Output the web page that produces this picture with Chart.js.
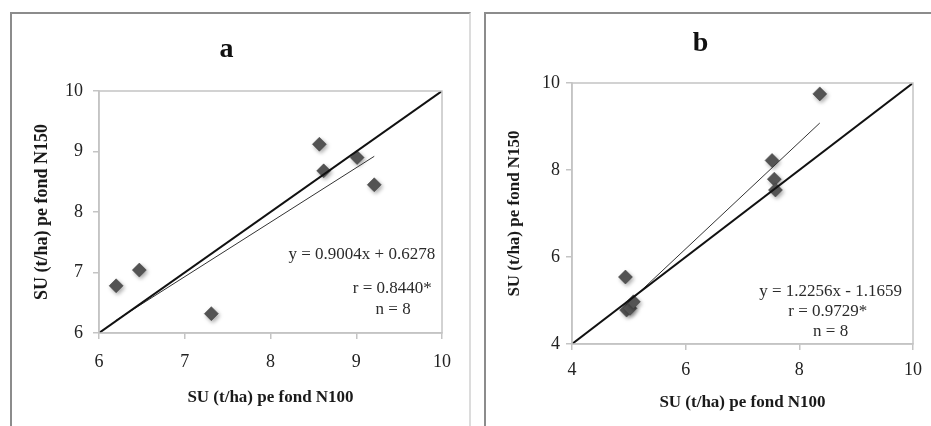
<!DOCTYPE html>
<html>
<head>
<meta charset="utf-8">
<script src="https://cdn.jsdelivr.net/npm/chart.js@4/dist/chart.umd.min.js"></script>
<style>
  body { margin: 0; background: #fff; width: 931px; height: 426px; overflow: hidden; position: relative; }
  .panel { position: absolute; top: 12px; height: 430px; box-sizing: border-box; }
  #panelA { left: 10px; width: 461px; border-left: 2px solid #8c8c8c; border-top: 2px solid #8c8c8c; border-right: 2px solid #dcdcdc; }
  #panelB { left: 484px; width: 460px; border-left: 2px solid #8c8c8c; border-top: 2px solid #8c8c8c; }
  canvas { position: absolute; }
</style>
</head>
<body>
<div class="panel" id="panelA"></div>
<div class="panel" id="panelB"></div>
<canvas id="chartA" width="458" height="413" style="left:11px;top:13px;width:458px;height:413px"></canvas>
<canvas id="chartB" width="446" height="413" style="left:485px;top:13px;width:446px;height:413px"></canvas>
<script>
// Panel a: yield on N100 background (x) vs N150 background (y)
const xA = [6.20, 6.47, 7.31, 8.57, 8.62, 9.01, 9.21];
const yA = [6.78, 7.04, 6.32, 9.12, 8.68, 8.90, 8.45];
const fitA = { slope: 0.9004, intercept: 0.6278 };
const textA = ['y = 0.9004x + 0.6278', 'r = 0.8440*', 'n = 8'];
const ticksA = [6, 7, 8, 9, 10];

// Panel b
const xB = [8.36, 7.52, 7.56, 7.58, 4.94, 4.96, 5.02, 5.08];
const yB = [9.75, 8.22, 7.79, 7.54, 5.54, 4.78, 4.82, 4.97];
const fitB = { slope: 1.2256, intercept: -1.1659 };
const textB = ['y = 1.2256x - 1.1659', 'r = 0.9729*', 'n = 8'];
const ticksB = [4, 6, 8, 10];

const axisTitle = 'SU (t/ha) pe fond N100';
const axisTitleY = 'SU (t/ha) pe fond N150';
const serif = 'Liberation Serif';

// box round the plot area + the regression text
const framePlugin = {
    id: 'frame',
    afterDraw(chart, args, opts) {
        const { ctx, chartArea: a, scales } = chart;
        ctx.save();
        ctx.strokeStyle = '#c4c4c4';
        ctx.lineWidth = 1.5;
        ctx.strokeRect(a.left, a.top, a.right - a.left, a.bottom - a.top);
        ctx.fillStyle = '#2b2b2b';
        ctx.font = '17px "' + serif + '"';
        ctx.textBaseline = 'middle';
        opts.lines.forEach(l => {
            ctx.textAlign = l.align;
            ctx.fillText(l.text, scales.x.getPixelForValue(l.x), scales.y.getPixelForValue(l.y));
        });
        ctx.restore();
    },
    beforeDatasetDraw(chart, args) {
        if (args.index === 0) {
            const ctx = chart.ctx;
            ctx.save();
            ctx.shadowColor = 'rgba(0,0,0,0.35)';
            ctx.shadowBlur = 4;
            ctx.shadowOffsetX = 1.5;
            ctx.shadowOffsetY = 2;
        }
    },
    afterDatasetDraw(chart, args) {
        if (args.index === 0) chart.ctx.restore();
    }
};

function makeChart(id, xs, ys, fit, lo, hi, step, ticks, lines, box) {
    const pts = xs.map((x, i) => ({ x, y: ys[i] }));
    const xmin = Math.min(...xs), xmax = Math.max(...xs);
    const trend = [xmin, xmax].map(x => ({ x, y: fit.slope * x + fit.intercept }));
    return new Chart(document.getElementById(id), {
        type: 'scatter',
        data: {
            datasets: [
                { data: pts, pointStyle: 'rectRot', pointRadius: 7, backgroundColor: '#555555',
                  borderColor: '#3f3f3f', borderWidth: 0.5, order: 3 },
                { data: [{ x: lo, y: lo }, { x: hi, y: hi }], showLine: true, pointRadius: 0,
                  borderColor: '#111', borderWidth: 2, order: 1 },
                { data: trend, showLine: true, pointRadius: 0, borderColor: '#333', borderWidth: 1, order: 2 }
            ]
        },
        options: {
            responsive: false,
            animation: false,
            layout: { padding: { left: 0, right: box.right, top: 0, bottom: 0 } },
            plugins: {
                legend: { display: false },
                tooltip: { enabled: false },
                title: {
                    display: true, text: box.title, color: '#111',
                    font: { family: serif, size: 28, weight: 'bold' },
                    padding: { top: box.titleTop, bottom: box.titleBottom }
                },
                frame: { lines }
            },
            scales: {
                x: {
                    type: 'linear', min: lo, max: hi,
                    afterBuildTicks: s => { s.ticks = ticks.map(v => ({ value: v })); },
                    afterFit: s => { s.height = box.xHeight; },
                    grid: { drawOnChartArea: false, tickLength: 6, color: '#c4c4c4', lineWidth: 1.5 },
                    border: { color: '#c4c4c4', width: 1.5 },
                    ticks: { color: '#222', padding: box.xPad, font: { family: serif, size: 18 } },
                    title: { display: true, text: axisTitle, color: '#1a1a1a',
                             font: { family: serif, size: 17, weight: 'bold' },
                             padding: { top: 0, bottom: box.xTitleBottom } }
                },
                y: {
                    type: 'linear', min: lo, max: hi,
                    afterBuildTicks: s => { s.ticks = ticks.map(v => ({ value: v })); },
                    afterFit: s => { s.width = box.yWidth; },
                    grid: { drawOnChartArea: false, tickLength: 6, color: '#c4c4c4', lineWidth: 1.5 },
                    border: { color: '#c4c4c4', width: 1.5 },
                    ticks: { color: '#222', padding: box.yPad, font: { family: serif, size: 18 } },
                    title: { display: true, text: axisTitleY, color: '#1a1a1a',
                             font: { family: serif, size: box.yTitleSize, weight: 'bold' },
                             padding: { top: box.yTitleTop, bottom: 0 } }
                }
            }
        },
        plugins: [framePlugin]
    });
}

makeChart('chartA', xA, yA, fitA, 6, 10, 1, ticksA, [
    { text: textA[0], x: 9.92, y: 7.29, align: 'right' },
    { text: textA[1], x: 9.42, y: 6.74, align: 'center' },
    { text: textA[2], x: 9.43, y: 6.38, align: 'center' }
], { title: 'a', right: 27, titleTop: 20, titleBottom: 24.4, xHeight: 93, xPad: 12,
     xTitleBottom: 17.8, yWidth: 88, yPad: 10, yTitleTop: 21, yTitleSize: 18 });

makeChart('chartB', xB, yB, fitB, 4, 10, 2, ticksB, [
    { text: textB[0], x: 8.55, y: 5.20, align: 'center' },
    { text: textB[1], x: 8.50, y: 4.74, align: 'center' },
    { text: textB[2], x: 8.55, y: 4.28, align: 'center' }
], { title: 'b', right: 15, titleTop: 14, titleBottom: 22.4, xHeight: 82, xPad: 9,
     xTitleBottom: 12.8, yWidth: 87, yPad: 6, yTitleTop: 19.8, yTitleSize: 17 });
</script>
</body>
</html>
